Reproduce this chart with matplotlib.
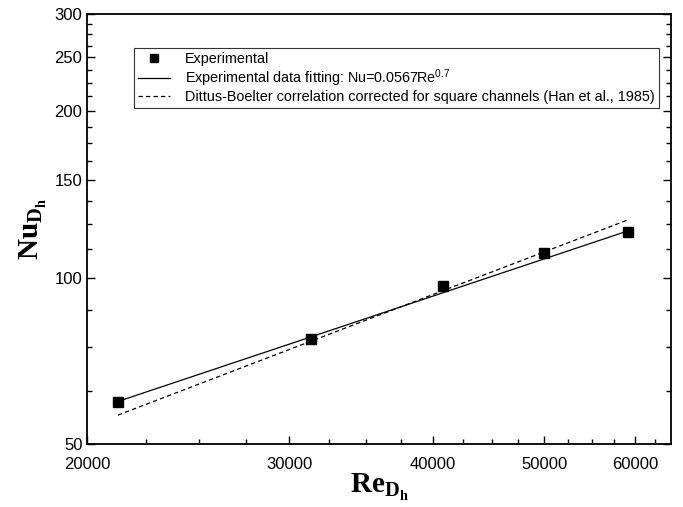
import matplotlib
matplotlib.use("Agg")
import matplotlib.pyplot as plt
from matplotlib.ticker import FixedLocator, MultipleLocator, NullFormatter, FormatStrFormatter

plt.rcParams["font.family"] = ["Liberation Sans", "DejaVu Sans"]
plt.rcParams["mathtext.fontset"] = "custom"
plt.rcParams["mathtext.rm"] = "Liberation Sans"
plt.rcParams["mathtext.bf"] = "Liberation Serif:bold"

re_exp = [21270, 31300, 40850, 50000, 59150]
nu_exp = [59.7, 77.5, 96.6, 110.9, 121.0]

# Fit-Linie Nu=0.0567Re^0.7 (Endpunkte)
re_fit = [21270, 59150]
nu_fit = [59.8, 121.5]

# Dittus-Boelter (Han et al., 1985) (Endpunkte)
re_db = [21270, 59150]
nu_db = [56.5, 127.2]

x_major = [20000, 30000, 40000, 50000, 60000]

fig = plt.figure(figsize=(6.83, 5.07), dpi=100)
ax = fig.add_axes([0.1278, 0.1233, 0.8546, 0.850])

ax.plot(re_exp, nu_exp, "s", color="black", markersize=7, label="Experimental")
ax.plot(re_fit, nu_fit, "-", color="black", lw=0.9,
        label="Experimental data fitting: Nu=0.0567Re$^{0.7}$")
ax.plot(re_db, nu_db, "--", color="black", lw=0.9, dashes=(3.5, 2.5),
        label="Dittus-Boelter correlation corrected for square channels (Han et al., 1985)")

ax.set_xscale("log")
ax.set_yscale("log")
ax.set_xlim(20000, 64500)
ax.set_ylim(50, 300)

ax.xaxis.set_major_locator(FixedLocator(x_major))
ax.xaxis.set_minor_locator(MultipleLocator(2500))
ax.xaxis.set_major_formatter(FormatStrFormatter("%d"))
ax.xaxis.set_minor_formatter(NullFormatter())
ax.yaxis.set_major_locator(MultipleLocator(50))
ax.yaxis.set_minor_locator(MultipleLocator(12.5))
ax.yaxis.set_major_formatter(FormatStrFormatter("%d"))
ax.yaxis.set_minor_formatter(NullFormatter())

ax.tick_params(which="both", direction="in", top=False, right=True, labelsize=12, width=1.0)
ax.tick_params(which="major", length=6)
ax.tick_params(which="minor", length=3.5)
ax.tick_params(axis="x", pad=9)
for s in ax.spines.values():
    s.set_linewidth(1.3)

ax.set_xlabel(r"$\mathbf{Re}_{\mathbf{D}_{\mathbf{h}}}$", fontsize=21, labelpad=0)
ax.set_ylabel(r"$\mathbf{Nu}_{\mathbf{D}_{\mathbf{h}}}$", fontsize=21, labelpad=4)

# Legende
leg = ax.legend(loc="upper left", bbox_to_anchor=(0.08, 0.921), borderaxespad=0,
                fontsize=10.4, frameon=True, fancybox=False, edgecolor="black",
                labelspacing=0.08, handlelength=2.2, handletextpad=1.0, borderpad=0.3,
                numpoints=1)
leg.get_frame().set_linewidth(0.8)
for h in leg.legend_handles:
    if h.get_marker() == "s":
        h.set_markersize(5.5)

fig.savefig("out.png", dpi=100)
